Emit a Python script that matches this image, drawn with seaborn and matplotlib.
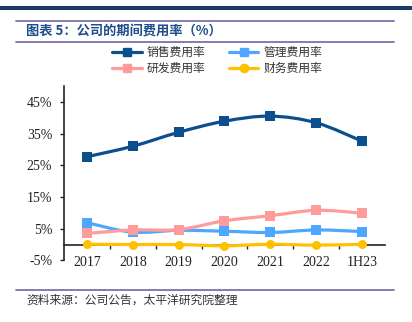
import numpy as np
import pandas as pd
import seaborn as sns
import matplotlib
matplotlib.use("Agg")
import matplotlib.pyplot as plt
from matplotlib.path import Path
from matplotlib.patches import PathPatch, Rectangle
from matplotlib.lines import Line2D

# Period expense ratios (%)
periods = ["2017", "2018", "2019", "2020", "2021", "2022", "1H23"]
selling = [27.7, 31.0, 35.4, 38.9, 40.5, 38.4, 32.6]
admin = [6.9, 3.9, 4.5, 4.2, 3.8, 4.6, 4.1]
rnd = [3.5, 4.6, 4.7, 7.5, 9.1, 10.8, 9.9]
finance = [0.1, 0.0, 0.0, -0.4, 0.1, -0.2, 0.1]

series_names = ["销售费用率", "管理费用率", "研发费用率", "财务费用率"]
series_values = [selling, admin, rnd, finance]
series_colors = ["#0B4F8F", "#4DA6FF", "#FF9B9B", "#FFC000"]
series_markers = ["s", "s", "s", "o"]

y_ticks = [-5, 5, 15, 25, 35, 45]
y_tick_labels = ["-5%", "5%", "15%", "25%", "35%", "45%"]

sns.set_theme(style="white")
plt.rcParams["font.family"] = ["Noto Sans CJK SC", "DejaVu Sans"]

fig = plt.figure(figsize=(4.12, 3.22), dpi=100)
ax = fig.add_axes([0.1553, 0.1913, 0.7792, 0.5416])

df = pd.DataFrame({
    "period": np.tile(np.arange(len(periods)), len(series_names)),
    "series": np.repeat(series_names, len(periods)),
    "value": np.concatenate(series_values),
})


def smooth_path(xs, ys):
    """Cubic Bezier path through the points (Catmull-Rom style smoothing)."""
    pts = np.column_stack([xs, ys]).astype(float)
    n = len(pts)
    verts = [pts[0]]
    codes = [Path.MOVETO]
    for i in range(n - 1):
        p0 = pts[i - 1] if i > 0 else pts[i]
        p1 = pts[i]
        p2 = pts[i + 1]
        p3 = pts[i + 2] if i + 2 < n else pts[i + 1]
        c1 = p1 + (p2 - p0) / 6.0
        c2 = p2 - (p3 - p1) / 6.0
        verts += [c1, c2, p2]
        codes += [Path.CURVE4] * 3
    return Path(verts, codes)


handles = []
for name, color, marker in zip(series_names, series_colors, series_markers):
    sub = df[df["series"] == name]
    patch = PathPatch(smooth_path(sub["period"].values, sub["value"].values),
                      fill=False, edgecolor=color, linewidth=2.3,
                      transform=ax.transData, zorder=4)
    ax.add_patch(patch)
    sns.scatterplot(data=sub, x="period", y="value", ax=ax, color=color,
                    marker=marker, s=42, edgecolor=color, linewidth=0,
                    zorder=5, legend=False)
    handles.append(Line2D([], [], color=color, linewidth=2.3, marker=marker,
                          markersize=6, label=name))

ax.set_xlim(-0.5, len(periods) - 0.5)
ax.set_ylim(-5, 50)
ax.set_xlabel("")
ax.set_ylabel("")

ax.set_xticks(np.arange(len(periods)))
ax.set_xticklabels(periods)
ax.set_xticks(np.arange(len(periods) - 1) + 0.5, minor=True)
ax.tick_params(axis="x", which="major", length=0, pad=8.5)
ax.tick_params(axis="x", which="minor", length=3, width=1, direction="out",
               color="#222222", bottom=True)

ax.set_yticks(y_ticks)
ax.set_yticklabels(y_tick_labels)
ax.tick_params(axis="y", which="major", length=3, width=1, direction="out",
               color="#222222", pad=5.5, left=True)
ax.tick_params(axis="both", which="major", labelsize=10, labelcolor="#222222",
               labelfontfamily="Liberation Serif")

for side in ["top", "right"]:
    ax.spines[side].set_visible(False)
ax.spines["left"].set_color("#222222")
ax.spines["left"].set_linewidth(1.2)
ax.spines["bottom"].set_position(("data", 0))
ax.spines["bottom"].set_color("#222222")
ax.spines["bottom"].set_linewidth(1.2)
ax.spines["bottom"].set_zorder(2)
ax.grid(False)

order = [handles[0], handles[2], handles[1], handles[3]]
fig.legend(handles=order, loc="center", bbox_to_anchor=(0.527, 0.812),
           ncol=2, frameon=False, fontsize=8.5, handlelength=2.5,
           handletextpad=0.4, columnspacing=2.0, labelspacing=0.25,
           labelcolor="#333333")

# Header band, title and rules
fig.add_artist(Rectangle((0, 1 - 10 / 322), 1, 4 / 322, transform=fig.transFigure,
                         facecolor="#1B3A66", edgecolor="none"))
for yy in [21, 42, 290]:
    fig.add_artist(Line2D([16 / 412, 394 / 412], [1 - yy / 322, 1 - yy / 322],
                          transform=fig.transFigure, color="#7B72A8", linewidth=1.3))

fig.text(26 / 412, 1 - 32 / 322, "图表 5：公司的期间费用率（%）", fontsize=9.5,
         fontweight="bold", color="#1F4E8C", va="center", ha="left")
fig.text(26 / 412, 1 - 300 / 322, "资料来源：公司公告，太平洋研究院整理", fontsize=8.5,
         color="#333333", va="center", ha="left")

fig.savefig("out.png", dpi=100)
